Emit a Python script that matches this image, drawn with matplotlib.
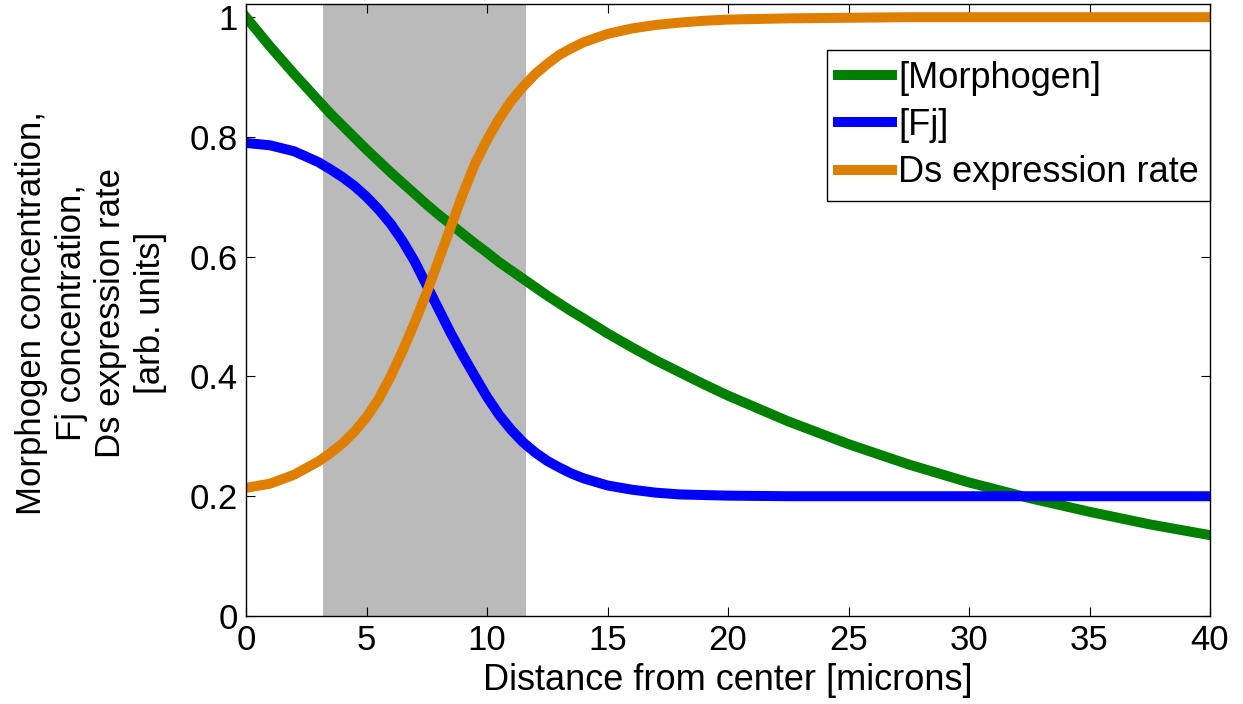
import matplotlib
matplotlib.use('Agg')
import matplotlib.pyplot as plt

plt.rcParams['font.family'] = ['Liberation Sans', 'DejaVu Sans']

# distance from center [microns]
distance = [0, 1, 2, 3, 3.5, 4, 4.5, 5, 5.5, 6, 6.5, 7, 7.5, 8, 8.5, 9, 9.5, 10,
            10.5, 11, 11.5, 12, 12.5, 13, 13.5, 14, 15, 16, 17, 18, 19, 20,
            22.5, 25, 27.5, 30, 32.5, 35, 37.5, 40]

morphogen = [1.000, 0.951, 0.905, 0.861, 0.839, 0.819, 0.799, 0.779, 0.760, 0.741,
             0.723, 0.705, 0.687, 0.670, 0.654, 0.638, 0.622, 0.607, 0.591, 0.577,
             0.563, 0.549, 0.535, 0.522, 0.509, 0.497, 0.472, 0.449, 0.427, 0.407,
             0.387, 0.368, 0.325, 0.287, 0.253, 0.223, 0.197, 0.174, 0.153, 0.135]

fj = [0.790, 0.786, 0.776, 0.758, 0.746, 0.733, 0.718, 0.700, 0.679, 0.655,
      0.626, 0.592, 0.552, 0.512, 0.472, 0.435, 0.400, 0.366, 0.336, 0.311,
      0.290, 0.273, 0.259, 0.248, 0.238, 0.230, 0.218, 0.211, 0.206, 0.203,
      0.202, 0.201, 0.200, 0.200, 0.200, 0.200, 0.200, 0.200, 0.200, 0.200]

ds_rate = [0.214, 0.221, 0.236, 0.258, 0.272, 0.288, 0.308, 0.332, 0.362, 0.400,
           0.443, 0.490, 0.540, 0.595, 0.650, 0.705, 0.755, 0.795, 0.830, 0.860,
           0.884, 0.905, 0.922, 0.937, 0.948, 0.958, 0.972, 0.981, 0.987, 0.991,
           0.994, 0.996, 0.998, 0.999, 1.000, 1.000, 1.000, 1.000, 1.000, 1.000]

shade_start, shade_end = 3.2, 11.6

x_ticks = [0, 5, 10, 15, 20, 25, 30, 35, 40]
y_ticks = [0, 0.2, 0.4, 0.6, 0.8, 1]
y_tick_labels = ['0', '0.2', '0.4', '0.6', '0.8', '1']

fig = plt.figure(figsize=(12.43, 7.04), dpi=100)
ax = fig.add_axes([246 / 1243, 88 / 704, 964 / 1243, 612 / 704])

ax.axvspan(shade_start, shade_end, color='#bababa', lw=0, zorder=0)
ax.plot(distance, morphogen, color='#008000', lw=7.2, label='[Morphogen]')
ax.plot(distance, fj, color='#0000ff', lw=7.2, label='[Fj]')
ax.plot(distance, ds_rate, color='#df7f00', lw=7.2, label='Ds expression rate')

ax.set_xlim(0, 40)
ax.set_ylim(0, 1.022)
ax.set_xticks(x_ticks)
ax.set_yticks(y_ticks)
ax.set_yticklabels(y_tick_labels)
ax.tick_params(direction='in', length=6.5, width=0.8, labelsize=25,
               top=True, right=True, pad=6)
for s in ax.spines.values():
    s.set_linewidth(1.0)

ax.set_xlabel('Distance from center [microns]', fontsize=26, labelpad=4)
fig.text(91 / 1243, 1 - 313 / 704,
         'Morphogen concentration,\nFj concentration,\nDs expression rate\n[arb. units]',
         rotation=90, ha='center', va='center', multialignment='center',
         fontsize=25, linespacing=1.25)

leg = ax.legend(loc='upper right', bbox_to_anchor=(1.0, 0.925), fontsize=26,
                borderaxespad=0, handlelength=1.5, handletextpad=0.17,
                labelspacing=0.34, borderpad=0.3, fancybox=False, framealpha=1)
leg.get_frame().set_edgecolor('black')
leg.get_frame().set_linewidth(1.0)

fig.savefig('out.png', dpi=100)
